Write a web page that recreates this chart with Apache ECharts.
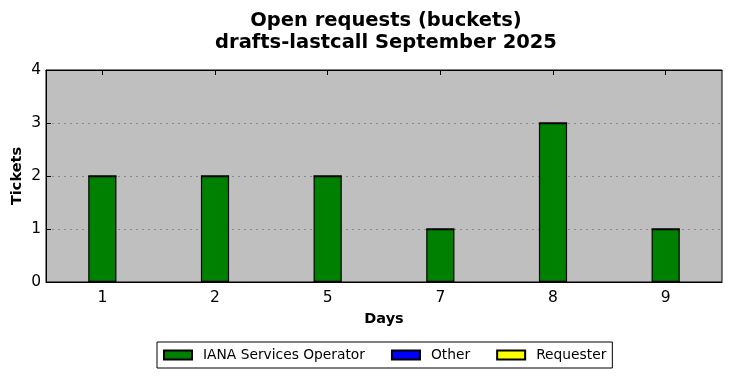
<!DOCTYPE html>
<html><head><meta charset="utf-8">
<script src="https://cdn.jsdelivr.net/npm/echarts@6/dist/echarts.min.js"></script>
<style>html,body{margin:0;padding:0;background:#fff}#c{width:732px;height:378px}</style>
</head><body><div id="c"></div>
<script>
const categories = ['1','2','5','7','8','9'];
const ianaValues = [2,2,2,1,3,1];
const otherValues = [0,0,0,0,0,0];
const requesterValues = [0,0,0,0,0,0];
const yTicks = [0,1,2,3,4];

const F = 'DejaVu Sans';
const chart = echarts.init(document.getElementById('c'), null, {renderer:'canvas'});
const mk = (name, data, color) => ({
  name, type:'bar', stack:'s', data, barWidth:'25%', xAxisIndex:0, yAxisIndex:0,
  itemStyle:{color, borderColor:'#000', borderWidth:1.2}, emphasis:{disabled:true}
});
chart.setOption({
  animation:false,
  title:{text:'Open requests (buckets)\ndrafts-lastcall September 2025', left:381, textAlign:'center', top:5,
    textStyle:{fontFamily:F, fontWeight:'bold', fontSize:19.5, color:'#000', lineHeight:22}},
  grid:{left:46, right:10, top:70, bottom:96, show:true, outerBoundsMode:'none', containLabel:false,
    backgroundColor:'#bfbfbf', borderColor:'#000', borderWidth:1},
  legend:{bottom:10, left:157, itemWidth:28, itemHeight:9, itemGap:26,
    borderColor:'#000', borderWidth:1, padding:[6,6,6,6], borderRadius:0,
    textStyle:{fontFamily:F, fontSize:13.8, color:'#000', padding:[0,0,0,6]}, icon:'rect',
    data:['IANA Services Operator','Other','Requester']},
  xAxis:[{type:'category', data:categories, name:'Days', nameLocation:'middle', nameGap:30, nameMoveOverlap:false,
    nameTextStyle:{fontFamily:F, fontWeight:'bold', fontSize:14.5, color:'#000'},
    axisLine:{show:true, lineStyle:{color:'#000'}}, axisTick:{show:true, inside:true, alignWithLabel:true, length:5, lineStyle:{color:'#000'}},
    axisLabel:{fontFamily:F, fontSize:15.5, color:'#000', margin:8}},
   {type:'category', data:categories, position:'top', axisLine:{show:true, lineStyle:{color:'#000'}},
    axisTick:{show:true, inside:true, alignWithLabel:true, length:5, lineStyle:{color:'#000'}}, axisLabel:{show:false}}],
  yAxis:{type:'value', min:yTicks[0], max:yTicks[yTicks.length-1], interval:1, name:'Tickets', nameLocation:'middle', nameGap:21, nameMoveOverlap:false,
    nameTextStyle:{fontFamily:F, fontWeight:'bold', fontSize:14.5, color:'#000'},
    axisLine:{show:true, lineStyle:{color:'#000'}}, axisTick:{show:true, inside:true, length:5, lineStyle:{color:'#000'}},
    axisLabel:{fontFamily:F, fontSize:15.5, color:'#000', margin:5},
    splitLine:{show:true, lineStyle:{color:'#8a8a8a', type:[2,4], width:1}}},
  series:[mk('IANA Services Operator', ianaValues, '#008000'), mk('Other', otherValues, '#0000ff'), mk('Requester', requesterValues, '#ffff00')]
});
</script></body></html>
